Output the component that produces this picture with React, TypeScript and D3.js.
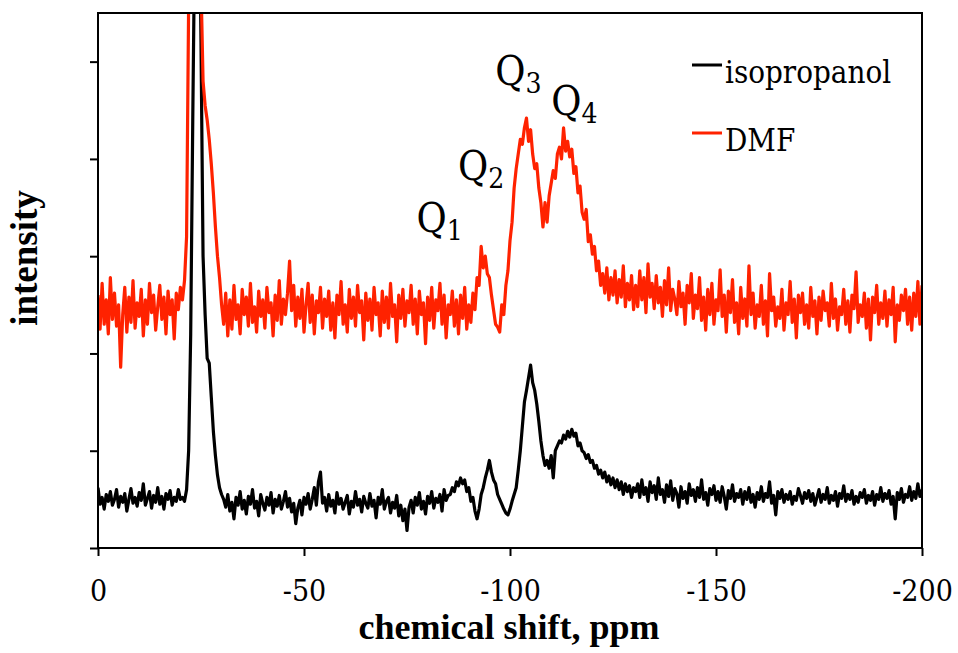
import React, { useRef, useEffect } from 'react';
import * as d3 from 'd3';

const width = 958;
const height = 653;
const margin = { top: 13, right: 36, bottom: 105, left: 98 };

// spectra are sampled every 0.5 ppm, starting at 0 ppm and going to -200 ppm
const ppmStart = 0;
const ppmStep = -0.5;

const xTicks = [0, -50, -100, -150, -200];
const yTicks = [0, 1, 2, 3, 4, 5];

const seriesNames = ['isopropanol', 'DMF'];
const seriesColors = ['#000000', '#ff2200'];

const isopropanol = [
  // 0 .. -20
  0.62, 0.45, 0.52, 0.40, 0.55, 0.48, 0.58, 0.44, 0.50, 0.60,
  0.42, 0.53, 0.47, 0.56, 0.38, 0.50, 0.61, 0.46, 0.52, 0.43,
  0.57, 0.49, 0.66, 0.44, 0.51, 0.58, 0.41, 0.54, 0.47, 0.62,
  0.45, 0.53, 0.40, 0.56, 0.50, 0.59, 0.44, 0.52, 0.48, 0.60,
  0.50,
  // -20.5 .. -30 (solvent peak)
  0.52, 0.48, 0.60, 1.00, 2.20, 4.40, 6.40, 7.00, 7.00, 5.20,
  3.00, 2.40, 1.95, 1.90, 1.55, 1.20, 0.95, 0.75, 0.62, 0.55,
  // -30.5 .. -85
  0.50, 0.42, 0.55, 0.38, 0.47, 0.30, 0.52, 0.44, 0.58, 0.40,
  0.49, 0.35, 0.53, 0.45, 0.60, 0.41, 0.48, 0.33, 0.55, 0.46,
  0.39, 0.52, 0.44, 0.57, 0.36, 0.50, 0.43, 0.54, 0.40, 0.48,
  0.58, 0.42, 0.51, 0.37, 0.46, 0.25, 0.41, 0.49, 0.34, 0.52,
  0.45, 0.56, 0.40, 0.50, 0.62, 0.44, 0.68, 0.78, 0.46, 0.52,
  0.38, 0.55, 0.43, 0.49, 0.36, 0.57, 0.45, 0.51, 0.40, 0.47,
  0.54, 0.35, 0.48, 0.42, 0.58, 0.44, 0.50, 0.37, 0.53, 0.46,
  0.41, 0.56, 0.43, 0.49, 0.31, 0.52, 0.45, 0.60, 0.40, 0.48,
  0.52, 0.36, 0.47, 0.41, 0.54, 0.33, 0.44, 0.28, 0.40, 0.18,
  0.42, 0.49, 0.36, 0.52, 0.44, 0.57, 0.40, 0.48, 0.35, 0.53,
  0.46, 0.58, 0.41, 0.51, 0.47, 0.55, 0.38, 0.60, 0.49, 0.54,
  // -85.5 .. -100 (Q1, Q2)
  0.55, 0.62, 0.58, 0.68, 0.64, 0.72, 0.66, 0.70, 0.58, 0.62,
  0.48, 0.52, 0.38, 0.30, 0.40, 0.55, 0.62, 0.72, 0.80, 0.90,
  0.78, 0.70, 0.66, 0.55, 0.50, 0.45, 0.40, 0.36, 0.34, 0.40,
  // -100.5 .. -130 (Q3, Q4)
  0.48, 0.55, 0.62, 0.80, 1.00, 1.25, 1.50, 1.62, 1.75, 1.88,
  1.70, 1.62, 1.48, 1.30, 1.10, 0.95, 0.85, 0.90, 0.82, 0.95,
  0.72, 1.00, 1.05, 1.10, 1.08, 1.16, 1.12, 1.20, 1.14, 1.22,
  1.15, 1.18, 1.05, 1.08, 1.00, 0.98, 0.92, 0.96, 0.88, 0.90,
  0.82, 0.85, 0.76, 0.80, 0.72, 0.78, 0.68, 0.74, 0.65, 0.72,
  0.62, 0.70, 0.60, 0.68, 0.55, 0.66, 0.58, 0.64, 0.52, 0.62,
  // -130.5 .. -200
  0.58, 0.66, 0.52, 0.70, 0.55, 0.62, 0.48, 0.68, 0.57, 0.64,
  0.50, 0.72, 0.55, 0.60, 0.47, 0.65, 0.53, 0.69, 0.49, 0.61,
  0.56, 0.42, 0.63, 0.51, 0.58, 0.46, 0.66, 0.54, 0.60, 0.48,
  0.62, 0.52, 0.70, 0.50, 0.57, 0.44, 0.61, 0.55, 0.64, 0.49,
  0.58, 0.47, 0.63, 0.53, 0.40, 0.59, 0.51, 0.65, 0.48, 0.56,
  0.52, 0.60, 0.45, 0.58, 0.50, 0.62, 0.47, 0.55, 0.42, 0.57,
  0.50, 0.63, 0.48, 0.56, 0.52, 0.68, 0.46, 0.54, 0.34, 0.58,
  0.51, 0.60, 0.47, 0.55, 0.50, 0.58, 0.45, 0.53, 0.49, 0.61,
  0.54, 0.46, 0.57, 0.51, 0.59, 0.48, 0.56, 0.44, 0.52, 0.60,
  0.47, 0.55, 0.50, 0.62, 0.46, 0.54, 0.49, 0.58, 0.43, 0.56,
  0.51, 0.64, 0.48, 0.55, 0.50, 0.59, 0.45, 0.53, 0.47, 0.57,
  0.52, 0.60, 0.46, 0.54, 0.49, 0.58, 0.44, 0.55, 0.50, 0.62,
  0.48, 0.56, 0.51, 0.59, 0.45, 0.53, 0.30, 0.57, 0.50, 0.61,
  0.47, 0.55, 0.52, 0.63, 0.49, 0.58, 0.51, 0.66, 0.53, 0.60,
];

const dmf = [
  // 0 .. -20
  2.60, 2.25, 2.72, 2.30, 2.55, 2.20, 2.78, 2.35, 2.62, 2.28,
  2.50, 1.86, 2.40, 2.68, 2.22, 2.58, 2.32, 2.75, 2.26, 2.52,
  2.38, 2.66, 2.18, 2.55, 2.30, 2.72, 2.42, 2.60, 2.24, 2.48,
  2.70, 2.35, 2.58, 2.20, 2.64, 2.40, 2.55, 2.15, 2.62, 2.45,
  2.68,
  // -20.5 .. -30 (solvent peak)
  2.55, 2.75, 3.20, 5.60, 6.80, 7.20, 7.20, 7.20, 7.00, 5.80,
  4.80, 4.55, 4.40, 4.20, 3.95, 3.65, 3.30, 3.00, 2.78, 2.50,
  // -30.5 .. -85
  2.30, 2.62, 2.18, 2.55, 2.25, 2.70, 2.35, 2.50, 2.20, 2.66,
  2.40, 2.58, 2.28, 2.72, 2.32, 2.48, 2.22, 2.64, 2.38, 2.55,
  2.26, 2.68, 2.42, 2.52, 2.18, 2.60, 2.34, 2.75, 2.30, 2.56,
  2.40, 2.62, 2.95, 2.44, 2.70, 2.28, 2.58, 2.36, 2.66, 2.22,
  2.50, 2.72, 2.32, 2.60, 2.20, 2.54, 2.42, 2.68, 2.26, 2.56,
  2.38, 2.64, 2.24, 2.52, 2.16, 2.60, 2.40, 2.74, 2.30, 2.50,
  2.22, 2.66, 2.36, 2.58, 2.28, 2.70, 2.42, 2.54, 2.14, 2.62,
  2.34, 2.56, 2.24, 2.68, 2.40, 2.52, 2.18, 2.64, 2.32, 2.58,
  2.26, 2.72, 2.38, 2.50, 2.12, 2.60, 2.36, 2.66, 2.28, 2.54,
  2.42, 2.70, 2.30, 2.56, 2.20, 2.64, 2.40, 2.52, 2.10, 2.58,
  2.34, 2.68, 2.26, 2.55, 2.44, 2.72, 2.30, 2.60, 2.16, 2.50,
  // -85.5 .. -100 (Q1, Q2)
  2.40, 2.64, 2.28, 2.55, 2.20, 2.60, 2.36, 2.68, 2.25, 2.50,
  2.32, 2.62, 2.45, 2.78, 2.70, 3.10, 2.88, 3.00, 2.82, 2.78,
  2.60, 2.45, 2.30, 2.27, 2.22, 2.50, 2.40, 2.70, 2.85, 3.16,
  // -100.5 .. -130 (Q3, Q4)
  3.35, 3.70, 3.90, 4.05, 4.20, 4.15, 4.32, 4.42, 4.18, 4.30,
  4.05, 3.90, 3.95, 3.70, 3.55, 3.30, 3.55, 3.35, 3.62, 3.75,
  3.88, 3.80, 4.05, 4.12, 4.00, 4.32, 4.08, 4.18, 4.02, 4.10,
  3.85, 3.92, 3.65, 3.72, 3.45, 3.38, 3.48, 3.15, 3.22, 3.02,
  3.10, 2.85, 2.95, 2.70, 2.82, 2.62, 2.88, 2.55, 2.78, 2.60,
  2.85, 2.52, 2.76, 2.58, 2.90, 2.48, 2.72, 2.55, 2.80, 2.45,
  // -130.5 .. -200
  2.70, 2.48, 2.85, 2.55, 2.78, 2.42, 2.92, 2.58, 2.72, 2.46,
  2.80, 2.52, 2.68, 2.38, 2.75, 2.50, 2.88, 2.44, 2.66, 2.56,
  2.40, 2.74, 2.48, 2.62, 2.30, 2.70, 2.52, 2.82, 2.36, 2.60,
  2.46, 2.78, 2.34, 2.58, 2.24, 2.66, 2.40, 2.72, 2.30, 2.55,
  2.44, 2.86, 2.38, 2.60, 2.22, 2.64, 2.42, 2.76, 2.32, 2.52,
  2.20, 2.68, 2.36, 2.56, 2.28, 2.90, 2.40, 2.62, 2.26, 2.50,
  2.38, 2.70, 2.30, 2.54, 2.18, 2.82, 2.44, 2.58, 2.28, 2.48,
  2.36, 2.66, 2.24, 2.52, 2.40, 2.74, 2.32, 2.56, 2.16, 2.60,
  2.42, 2.62, 2.30, 2.50, 2.26, 2.68, 2.38, 2.54, 2.20, 2.58,
  2.34, 2.64, 2.44, 2.52, 2.28, 2.72, 2.36, 2.56, 2.24, 2.48,
  2.40, 2.66, 2.30, 2.54, 2.22, 2.60, 2.46, 2.84, 2.32, 2.50,
  2.38, 2.62, 2.26, 2.56, 2.14, 2.58, 2.42, 2.70, 2.30, 2.52,
  2.36, 2.64, 2.28, 2.55, 2.40, 2.68, 2.12, 2.50, 2.34, 2.60,
  2.44, 2.66, 2.30, 2.58, 2.24, 2.62, 2.38, 2.74, 2.30, 2.70,
];

// peak annotations, placed in data coordinates (ppm, intensity)
const peakNames = ['1', '2', '3', '4'];
const peakPpm = [-77.3, -87.4, -96.4, -110.0];
const peakLevel = [3.25, 3.78, 4.76, 4.45];

// regular serif text uses DejaVu Serif (condensed) – Liberation Serif regular falls back to sans here
const serifRegular = "'DejaVu Serif Condensed', 'DejaVu Serif', serif";
const serifBold = "'Liberation Serif', 'Times New Roman', serif";

const App = () => {
  const svgRef = useRef<SVGSVGElement>(null);

  useEffect(() => {
    const svg = d3.select(svgRef.current);
    svg.selectAll('*').remove();

    const x = d3.scaleLinear()
      .domain([0, -200])
      .range([margin.left, width - margin.right]);

    const y = d3.scaleLinear()
      .domain([0, 5.5])
      .range([height - margin.bottom, margin.top]);

    svg.append('defs').append('clipPath')
      .attr('id', 'plot-clip')
      .append('rect')
      .attr('x', margin.left)
      .attr('y', margin.top)
      .attr('width', width - margin.left - margin.right)
      .attr('height', height - margin.top - margin.bottom);

    const line = d3.line<number>()
      .x((d, i) => x(ppmStart + i * ppmStep))
      .y(d => y(d));

    // spectra (black first, red drawn over it)
    [isopropanol, dmf].forEach((series, k) => {
      svg.append('path')
        .datum(series)
        .attr('clip-path', 'url(#plot-clip)')
        .attr('fill', 'none')
        .attr('stroke', seriesColors[k])
        .attr('stroke-width', 3.2)
        .attr('stroke-linejoin', 'round')
        .attr('d', line);
    });

    // frame
    svg.append('rect')
      .attr('x', margin.left)
      .attr('y', margin.top)
      .attr('width', width - margin.left - margin.right)
      .attr('height', height - margin.top - margin.bottom)
      .attr('fill', 'none')
      .attr('stroke', '#000')
      .attr('stroke-width', 2);

    // x axis
    const xAxis = svg.append('g')
      .attr('transform', `translate(0,${height - margin.bottom})`)
      .call(d3.axisBottom(x).tickValues(xTicks).tickSize(8).tickFormat(d => String(d)));
    xAxis.attr('font-family', null).attr('font-size', null);
    xAxis.select('.domain').remove();
    xAxis.selectAll('line').attr('stroke-width', 2);
    xAxis.selectAll('text')
      .attr('y', 53)
      .attr('dy', 0)
      .style('font-family', serifRegular)
      .style('font-stretch', 'condensed')
      .style('font-size', '30px')
      .attr('fill', '#000');

    // y axis, ticks only
    const yAxis = svg.append('g')
      .attr('transform', `translate(${margin.left},0)`)
      .call(d3.axisLeft(y).tickValues(yTicks).tickSize(8).tickFormat(() => ''));
    yAxis.select('.domain').remove();
    yAxis.selectAll('line').attr('stroke-width', 2);

    // axis titles
    svg.append('text')
      .attr('x', 509)
      .attr('y', 639)
      .attr('text-anchor', 'middle')
      .style('font-family', serifBold)
      .style('font-weight', 'bold')
      .style('font-size', '36px')
      .text('chemical shift, ppm');

    svg.append('text')
      .attr('transform', 'translate(37,258) rotate(-90)')
      .attr('text-anchor', 'middle')
      .style('font-family', serifBold)
      .style('font-weight', 'bold')
      .style('font-size', '37px')
      .text('intensity');

    // Q labels
    peakNames.forEach((name, i) => {
      const t = svg.append('text')
        .attr('x', x(peakPpm[i]))
        .attr('y', y(peakLevel[i]))
        .style('font-family', serifRegular)
        .style('font-stretch', 'condensed')
        .style('font-size', '41px');
      t.append('tspan').text('Q');
      t.append('tspan')
        .style('font-size', '28px')
        .attr('dy', 8)
        .text(name);
    });

    // legend
    const legend = svg.append('g').attr('transform', 'translate(692,65)');
    seriesNames.forEach((name, i) => {
      const row = legend.append('g').attr('transform', `translate(0,${i * 68})`);
      row.append('line')
        .attr('x1', 0)
        .attr('x2', 30)
        .attr('y1', 0)
        .attr('y2', 0)
        .attr('stroke', seriesColors[i])
        .attr('stroke-width', 3);
      row.append('text')
        .attr('x', 33)
        .attr('y', 18)
        .style('font-family', serifRegular)
        .style('font-stretch', 'condensed')
        .style('font-size', '31px')
        .text(name);
    });
  }, []);

  return (
    <svg
      ref={svgRef}
      width={width}
      height={height}
      style={{ position: 'absolute', left: 0, top: 0, background: '#fff' }}
    />
  );
};

export default App;
